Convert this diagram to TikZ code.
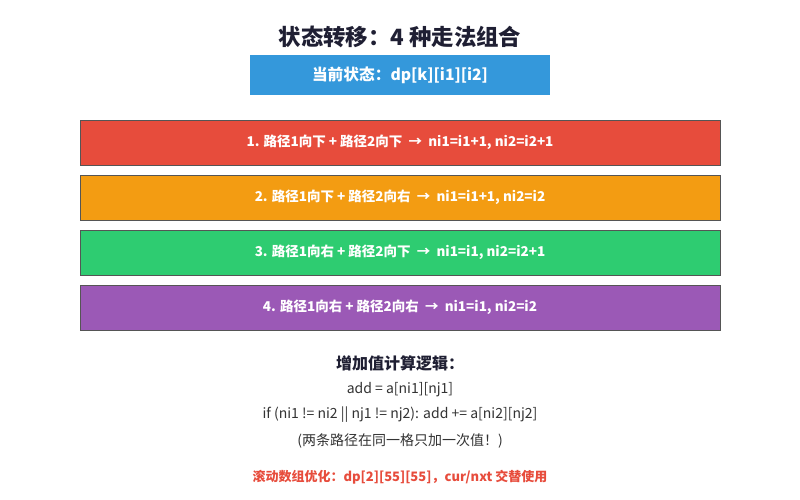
\documentclass[tikz,border=0pt]{standalone}
\usepackage{fontspec}
\setmainfont{Noto Sans CJK SC}
\definecolor{titlec}{HTML}{1F1F33}
\definecolor{bluec}{HTML}{3498DB}
\definecolor{redc}{HTML}{E74C3C}
\definecolor{orangec}{HTML}{F39C12}
\definecolor{greenc}{HTML}{2ECC71}
\definecolor{purplec}{HTML}{9B59B6}
\definecolor{edgec}{HTML}{555555}
\definecolor{textc}{HTML}{333333}
\begin{document}
\begin{tikzpicture}[x=1pt,y=-1pt,
  optbox/.style={draw=edgec,line width=0.8pt,minimum width=640pt,minimum height=45pt,inner sep=0pt,
    text=white,font=\fontsize{13.5}{16}\selectfont\bfseries},
  bodytext/.style={text=textc,font=\fontsize{14}{17}\selectfont}]
\useasboundingbox[fill=white] (0,0) rectangle (800,500);
\node[text=titlec,font=\fontsize{22.4}{26}\selectfont\bfseries] (title) at (400,37) {状态转移：4 种走法组合};
\node[fill=bluec,minimum width=300pt,minimum height=40pt,inner sep=0pt,text=white,
  font=\fontsize{15.7}{19}\selectfont\bfseries] (cur) at (400,75) {当前状态：dp[k][i1][i2]};
\node[optbox,fill=redc] (o1) at (400,142.5) {1. 路径1向下 + 路径2向下 \ → \ ni1=i1+1, ni2=i2+1};
\node[optbox,fill=orangec] (o2) at (400,197.5) {2. 路径1向下 + 路径2向右 \ → \ ni1=i1+1, ni2=i2};
\node[optbox,fill=greenc] (o3) at (400,252.5) {3. 路径1向右 + 路径2向下 \ → \ ni1=i1, ni2=i2+1};
\node[optbox,fill=purplec] (o4) at (400,307.5) {4. 路径1向右 + 路径2向右 \ → \ ni1=i1, ni2=i2};
\node[text=titlec,font=\fontsize{16}{19}\selectfont\bfseries] (calc) at (400,363) {增加值计算逻辑：};
\node[bodytext] (l1) at (400,390) {add = a[ni1][nj1]};
\node[bodytext] (l2) at (400,415) {if (ni1 != ni2 || nj1 != nj2): add += a[ni2][nj2]};
\node[bodytext] (l3) at (400,441) {(两条路径在同一格只加一次值！)};
\node[text=redc,font=\fontsize{13}{16}\selectfont\bfseries] (roll) at (400,477) {滚动数组优化：dp[2][55][55]，cur/nxt 交替使用};
\end{tikzpicture}
\end{document}
